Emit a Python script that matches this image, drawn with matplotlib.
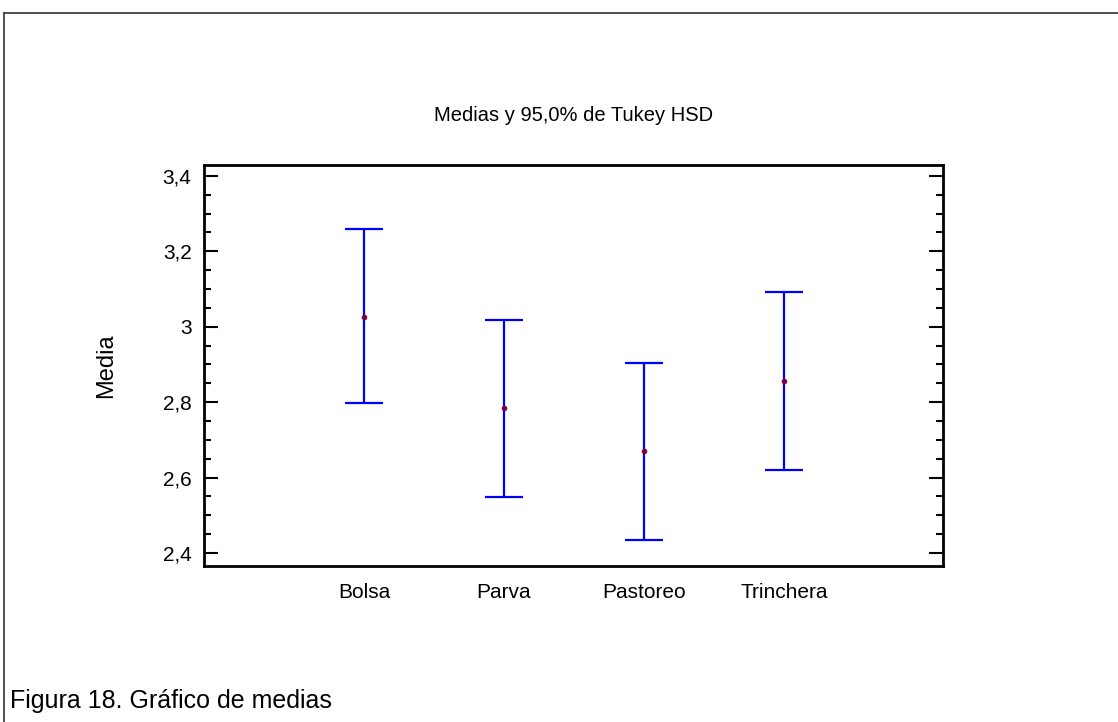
import numpy as np
import matplotlib
matplotlib.use("Agg")
import matplotlib.pyplot as plt
from matplotlib.ticker import MultipleLocator, FuncFormatter
from matplotlib.lines import Line2D

# data
groups = ["Bolsa", "Parva", "Pastoreo", "Trinchera"]
means = [3.025, 2.785, 2.670, 2.856]
lower = [2.797, 2.549, 2.434, 2.621]
upper = [3.260, 3.019, 2.905, 3.091]

plt.rcParams["font.family"] = ["Liberation Sans", "DejaVu Sans"]

fig = plt.figure(figsize=(11.18, 7.22), dpi=100)
ax = fig.add_axes([0.1825, 0.216, 0.661, 0.5555])

x = np.arange(1, len(groups) + 1)
m = np.array(means)
err = np.vstack([m - np.array(lower), np.array(upper) - m])
ax.errorbar(x, m, yerr=err, fmt="none", ecolor="#0000ff",
            elinewidth=1.6, capsize=14, capthick=1.6)
ax.plot(x, m, "o", color="#800040", markersize=3, zorder=3)

ax.set_xlim(-0.143, 5.136)
ax.set_ylim(2.3655, 3.429)
ax.set_xticks(x)
ax.set_xticklabels(groups)
ax.yaxis.set_major_locator(MultipleLocator(0.2))
ax.yaxis.set_minor_locator(MultipleLocator(0.05))
ax.yaxis.set_major_formatter(FuncFormatter(lambda v, p: ("%g" % round(v, 2)).replace(".", ",")))

ax.tick_params(axis="x", length=0, labelsize=15, pad=12)
ax.tick_params(axis="y", which="major", direction="in", left=True, right=True,
               length=10, width=1.5, labelsize=15, pad=9)
ax.tick_params(axis="y", which="minor", direction="in", left=True, right=True,
               length=5, width=1.5)
for s in ax.spines.values():
    s.set_linewidth(2)
    s.set_color("black")

ax.set_ylabel("Media", fontsize=17, labelpad=33)
ax.set_title("Medias y 95,0% de Tukey HSD", fontsize=14.5, pad=32)

# outer frame (top and left edges) and caption
fig.add_artist(Line2D([4 / 1118, 1], [1 - 13 / 722] * 2, color="#333333", lw=1.2))
fig.add_artist(Line2D([4 / 1118] * 2, [0, 1 - 13 / 722], color="#333333", lw=1.2))
fig.text(10 / 1118, 1 - 701 / 722, "Figura 18. Gráfico de medias",
         fontsize=18, ha="left", va="center")

fig.savefig("out.png", dpi=100, facecolor="white")
